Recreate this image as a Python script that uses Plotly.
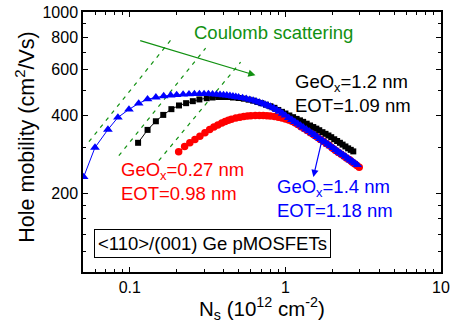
import math
import plotly.graph_objects as go

# ---------------- data ----------------
blue_ns = [0.0505, 0.0597, 0.0723, 0.0838, 0.0987, 0.114, 0.130, 0.147, 0.165, 0.183,
           0.20, 0.22, 0.24, 0.26, 0.28, 0.30, 0.32, 0.34, 0.36, 0.38,
           0.40, 0.42, 0.44, 0.46, 0.48, 0.50, 0.53, 0.56, 0.59, 0.62,
           0.65, 0.68, 0.71, 0.74, 0.77, 0.80, 0.84, 0.88, 0.92, 0.96,
           1.0, 1.05, 1.1, 1.15, 1.2, 1.25, 1.3, 1.36, 1.42, 1.48,
           1.54, 1.6, 1.67, 1.74, 1.81, 1.88, 1.95, 2.03, 2.11, 2.19,
           2.27, 2.35, 2.44, 2.53, 2.62, 2.71, 2.8, 2.9]
blue_mob = [232, 301, 353, 393, 422, 445, 462, 470, 475, 478,
            480, 482, 483, 484, 484, 484, 484, 483, 482, 481,
            479, 478, 476, 474, 472, 470, 467, 464, 460, 457,
            453, 449, 445, 441, 437, 433, 427, 420, 414, 407,
            400, 392, 385, 378, 372, 366, 360, 354, 348, 342,
            337, 331, 325, 320, 315, 310, 305, 300, 295, 290,
            286, 282, 278, 273, 269, 266, 262, 258]

black_ns = [0.113, 0.130, 0.147, 0.164, 0.185, 0.207, 0.230, 0.254, 0.280, 0.312,
            0.34, 0.37, 0.40, 0.43, 0.46, 0.50, 0.54, 0.58, 0.62, 0.66,
            0.70, 0.75, 0.80, 0.85, 0.90, 0.95, 1.0, 1.06, 1.12, 1.18,
            1.24, 1.30, 1.37, 1.44, 1.51, 1.58, 1.65, 1.73, 1.81, 1.89,
            1.97, 2.06, 2.15, 2.24, 2.33, 2.43, 2.53, 2.63, 2.73]
black_mob = [314, 352, 380, 402, 423, 437, 446, 454, 461, 466,
             469, 471, 471, 471, 469, 467, 464, 460, 456, 451,
             446, 440, 434, 428, 420, 413, 407, 400, 394, 388,
             383, 378, 372, 366, 361, 356, 351, 345, 340, 335,
             330, 324, 319, 314, 309, 304, 299, 295, 291]

red_ns = [0.206, 0.225, 0.243, 0.262, 0.282, 0.304, 0.326, 0.347, 0.368, 0.39,
          0.41, 0.43, 0.45, 0.48, 0.51, 0.54, 0.57, 0.60, 0.64, 0.68,
          0.72, 0.76, 0.80, 0.85, 0.90, 0.95, 1.0, 1.05, 1.1, 1.15,
          1.2, 1.26, 1.32, 1.38, 1.45, 1.52, 1.59, 1.67, 1.75, 1.83,
          1.91, 2.0, 2.09, 2.18, 2.28, 2.38, 2.48, 2.58, 2.68, 2.78,
          2.88, 2.98]
red_mob = [290, 304, 314, 323, 333, 343, 353, 361, 368, 374,
           379, 383, 387, 391, 394, 396, 398, 399, 400, 400,
           400, 399, 398, 396, 394, 391, 388, 384, 380, 375,
           369, 362, 356, 350, 343, 337, 331, 324, 318, 312,
           307, 300, 294, 289, 284, 279, 274, 270, 265, 261,
           257, 253]

# Coulomb-scattering guide lines (start/end)
guide_ns = [[0.0546, 0.183], [0.085, 0.307], [0.1535, 0.515]]
guide_mob = [[317, 779], [280, 726], [268, 641]]

# arrows (tail -> head)
coulomb_arrow_ns = [0.114, 0.642]
coulomb_arrow_mob = [779, 571]
blue_arrow_ns = [1.726, 1.512]
blue_arrow_mob = [326, 232]

x_ticks = [0.1, 1, 10]
x_ticktext = ["0.1", "1", "10"]
x_minor = [0.06, 0.07, 0.08, 0.09, 0.2, 0.3, 0.4, 0.5, 0.6, 0.7, 0.8, 0.9,
           2, 3, 4, 5, 6, 7, 8, 9]
y_ticks = [200, 400, 600, 800, 1000]
y_ticktext = ["200", "400", "600", "800", "1000"]
y_minor = [120, 140, 160, 180, 300, 500, 700, 900]

GREEN = "#119111"
FONT = "Liberation Sans, Arial, sans-serif"
ANN = 18.5

fig = go.Figure()

for gx, gy in zip(guide_ns, guide_mob):
    fig.add_trace(go.Scatter(x=gx, y=gy, mode="lines",
                             line=dict(color=GREEN, width=1.2, dash="4px,5px"),
                             hoverinfo="skip"))

fig.add_trace(go.Scatter(x=red_ns, y=red_mob, mode="lines+markers",
                         line=dict(color="#ff0000", width=1),
                         marker=dict(symbol="circle", size=7.5, color="#ff0000")))
fig.add_trace(go.Scatter(x=black_ns, y=black_mob, mode="lines+markers",
                         line=dict(color="#000000", width=1),
                         marker=dict(symbol="square", size=6, color="#000000")))
fig.add_trace(go.Scatter(x=blue_ns, y=blue_mob, mode="lines+markers",
                         line=dict(color="#0000ff", width=1),
                         marker=dict(symbol="triangle-up", size=8.5, color="#0000ff")))

L = math.log10
annotations = [
    dict(x=L(coulomb_arrow_ns[1]), y=L(coulomb_arrow_mob[1]),
         ax=L(coulomb_arrow_ns[0]), ay=L(coulomb_arrow_mob[0]),
         xref="x", yref="y", axref="x", ayref="y",
         showarrow=True, arrowhead=2, arrowsize=1.2, arrowwidth=1.2,
         arrowcolor=GREEN, text=""),
    dict(x=L(blue_arrow_ns[1]), y=L(blue_arrow_mob[1]),
         ax=L(blue_arrow_ns[0]), ay=L(blue_arrow_mob[0]),
         xref="x", yref="y", axref="x", ayref="y",
         showarrow=True, arrowhead=2, arrowsize=1.2, arrowwidth=1.2,
         arrowcolor="#0000ff", text=""),
    dict(x=0.531, y=0.923, xref="paper", yref="paper", showarrow=False,
         text="Coulomb scattering", font=dict(size=ANN, color=GREEN, family=FONT),
         xanchor="center", yanchor="middle"),
    dict(x=0.5866, y=0.6865, xref="paper", yref="paper", showarrow=False,
         text="GeO<sub>x</sub>=1.2 nm<br>EOT=1.09 nm", align="left",
         font=dict(size=ANN, color="#000000", family=FONT),
         xanchor="left", yanchor="middle"),
    dict(x=0.1, y=0.35, xref="paper", yref="paper", showarrow=False,
         text="GeO<sub>x</sub>=0.27 nm<br>EOT=0.98 nm", align="left",
         font=dict(size=ANN, color="#ff0000", family=FONT),
         xanchor="left", yanchor="middle"),
    dict(x=0.536, y=0.2827, xref="paper", yref="paper", showarrow=False,
         text="GeO<sub>x</sub>=1.4 nm<br>EOT=1.18 nm", align="left",
         font=dict(size=ANN, color="#0000ff", family=FONT),
         xanchor="left", yanchor="middle"),
    dict(x=0.3617, y=0.1115, xref="paper", yref="paper", showarrow=False,
         text="&lt;110&gt;/(001) Ge pMOSFETs",
         font=dict(size=ANN, color="#000000", family=FONT),
         bordercolor="#000000", borderwidth=1, borderpad=3, bgcolor="white",
         xanchor="center", yanchor="middle"),
    # axis titles
    dict(x=0.5, y=-0.141, xref="paper", yref="paper", showarrow=False,
         text="N<sub>s</sub> (10<sup>12</sup> cm<sup>-2</sup>)",
         font=dict(size=20.5, color="#000000", family=FONT),
         xanchor="center", yanchor="middle"),
    dict(x=-0.163, y=0.519, xref="paper", yref="paper", showarrow=False,
         text="Hole mobility (cm<sup>2</sup>/Vs)", textangle=-90,
         font=dict(size=21.5, color="#000000", family=FONT),
         xanchor="center", yanchor="middle"),
]

fig.update_layout(
    width=456, height=322,
    margin=dict(l=83, r=15, t=12, b=50),
    paper_bgcolor="white", plot_bgcolor="white",
    showlegend=False,
    font=dict(family=FONT, size=16, color="#000000"),
    annotations=annotations,
    xaxis=dict(type="log", range=[L(0.05), 1], automargin=False,
               tickvals=x_ticks, ticktext=x_ticktext,
               ticks="inside", ticklen=5, tickwidth=1, tickcolor="#000000",
               minor=dict(tickvals=x_minor, ticks="inside", ticklen=3, tickcolor="#000000"),
               showline=True, linecolor="#000000", linewidth=1.5, mirror="allticks",
               showgrid=False, zeroline=False,
               tickfont=dict(size=16, family=FONT)),
    yaxis=dict(type="log", range=[2, 3], automargin=False,
               tickvals=y_ticks, ticktext=y_ticktext,
               ticks="inside", ticklen=5, tickwidth=1, tickcolor="#000000",
               minor=dict(tickvals=y_minor, ticks="inside", ticklen=3, tickcolor="#000000"),
               showline=True, linecolor="#000000", linewidth=1.5, mirror="allticks",
               showgrid=False, zeroline=False,
               tickfont=dict(size=16, family=FONT)),
)

fig.write_html("out.html",
               config={"displayModeBar": False},
               post_script="document.body.style.margin='0px';document.body.style.overflow='hidden';")
